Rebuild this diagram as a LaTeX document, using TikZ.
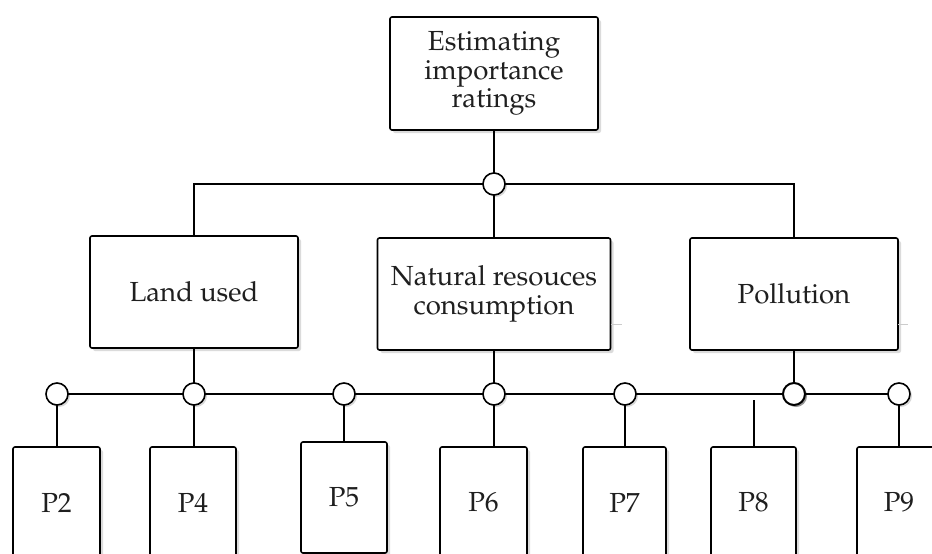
\documentclass[tikz,border=0pt]{standalone}
\usepackage[T1]{fontenc}
\usepackage{mathpazo}
\usetikzlibrary{shadows}
\begin{document}
\begin{tikzpicture}[x=1pt,y=-1pt,
  every node/.style={inner sep=0pt, outer sep=0pt},
  box/.style={draw=black, line width=1.6pt, fill=white, rounded corners=2pt,
    align=center, font=\fontsize{27.6}{28.4}\selectfont, text=black!88,
    drop shadow={opacity=0.28, shadow xshift=3pt, shadow yshift=-3pt}},
  pbox/.style={box, minimum height=111pt},
  junc/.style={circle, draw=black, line width=1.6pt, fill=white, minimum size=22pt,
    drop shadow={opacity=0.3, shadow xshift=2pt, shadow yshift=-2pt}},
  juncdark/.style={junc, line width=2pt, drop shadow={opacity=0.75, shadow xshift=2pt, shadow yshift=-2pt}},
  conn/.style={line width=1.6pt, draw=black},
  faint/.style={line width=0.6pt, draw=black!20}]
\clip (0,0) rectangle (932,554);
\fill[white] (0,0) rectangle (932,554);
% level 0
\node[box, minimum width=208pt, minimum height=113pt] (top) at (494,73.5) {Estimating\\importance\\ratings};
\node[junc] (j0) at (494,184) {};
% level 1
\node[box, minimum width=208pt, minimum height=112pt] (land) at (194,292) {Land used};
\node[box, minimum width=233pt, minimum height=112pt] (nat) at (494,294) {Natural resouces\\consumption};
\node[box, minimum width=208pt, minimum height=112pt] (poll) at (794,294) {Pollution};
% bottom junctions
\node[junc] (b1) at (57,394) {};
\node[junc] (b2) at (194,394) {};
\node[junc] (b3) at (344,394) {};
\node[junc] (b4) at (494,394) {};
\node[junc] (b5) at (625,394) {};
\node[juncdark] (b6) at (794,394) {};
\node[junc] (b7) at (899,394) {};
% P boxes
\node[pbox, minimum width=87pt] (p2) at (56.5,502.5) {P2};
\node[pbox, minimum width=86pt] (p4) at (193,502.5) {P4};
\node[pbox, minimum width=86pt] (p5) at (344,497.5) {P5};
\node[pbox, minimum width=87pt] (p6) at (483.5,502.5) {P6};
\node[pbox, minimum width=83pt] (p7) at (624.5,502.5) {P7};
\node[pbox, minimum width=85pt] (p8) at (753.5,502.5) {P8};
\node[pbox, minimum width=84pt] (p9) at (899,502.5) {P9};
\coordinate (p8t) at (754,400);
% connectors
\draw[conn] (top.south) -- (j0.north);
\draw[conn] (j0.west) -| (land.north);
\draw[conn] (j0.east) -| (poll.north);
\draw[conn] (j0.south) -- (nat.north);
\draw[conn] (land.south) -- (b2.north);
\draw[conn] (nat.south) -- (b4.north);
\draw[conn] (poll.south) -- (b6.north);
\draw[conn] (b1.east) -- (b2.west);
\draw[conn] (b2.east) -- (b3.west);
\draw[conn] (b3.east) -- (b4.west);
\draw[conn] (b4.east) -- (b5.west);
\draw[conn] (b5.east) -- (b6.west);
\draw[conn] (b6.east) -- (b7.west);
\draw[conn] (b1.south) -- (b1.south |- p2.north);
\draw[conn] (b2.south) -- (b2.south |- p4.north);
\draw[conn] (b3.south) -- (b3.south |- p5.north);
\draw[conn] (b4.south) -- (b4.south |- p6.north);
\draw[conn] (b5.south) -- (b5.south |- p7.north);
\draw[conn] (p8t) -- (p8t |- p8.north);
\draw[conn] (b7.south) -- (b7.south |- p9.north);
% faint marks
\draw[faint] (nat.east |- 0,324) -- ++(11,0);
\draw[faint] (poll.east |- 0,324) -- ++(10,0);
\end{tikzpicture}
\end{document}
